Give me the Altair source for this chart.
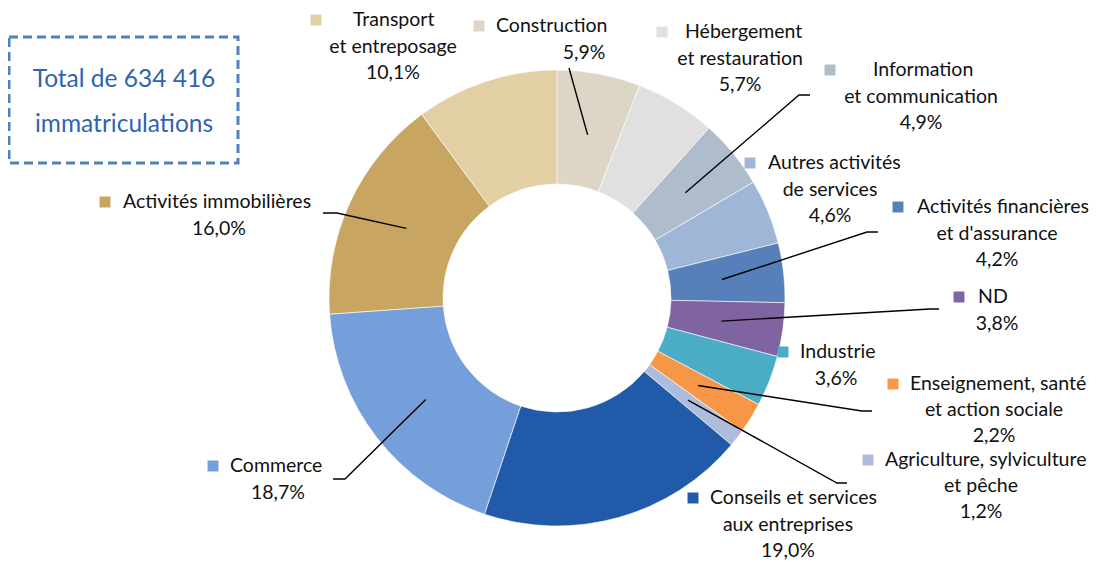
import math
import altair as alt
import pandas as pd

# ---------------- data ----------------
categories = [
    "Construction",
    "Hébergement et restauration",
    "Information et communication",
    "Autres activités de services",
    "Activités financières et d'assurance",
    "ND",
    "Industrie",
    "Enseignement, santé et action sociale",
    "Agriculture, sylviculture et pêche",
    "Conseils et services aux entreprises",
    "Commerce",
    "Activités immobilières",
    "Transport et entreposage",
]
values = [5.9, 5.7, 4.9, 4.6, 4.2, 3.8, 3.6, 2.2, 1.2, 19.0, 18.7, 16.0, 10.1]
label_lines = [
    ["Construction"],
    ["Hébergement", "et restauration"],
    ["Information", "et communication"],
    ["Autres activités", "de services"],
    ["Activités financières", "et d'assurance"],
    ["ND"],
    ["Industrie"],
    ["Enseignement, santé", "et action sociale"],
    ["Agriculture, sylviculture", "et pêche"],
    ["Conseils et services", "aux entreprises"],
    ["Commerce"],
    ["Activités immobilières"],
    ["Transport", "et entreposage"],
]
colors = [
    "#ddd5c6", "#e0e0e0", "#afbccb", "#a0b6d7", "#577fb9", "#8064a2",
    "#4bacc6", "#f79646", "#adbcdc", "#215aa8", "#749fda", "#c8a662", "#e2cfa4",
]
total_lines = ["Total de 634 416", "immatriculations"]

# ---------------- layout (page pixels) ----------------
OFF = 8
W, H = 1102, 552
CX, CY = 557, 298
R_OUT, R_IN, R_LEAD = 228, 114, 166
LINE_H = 26.5
FONT = "Lato"
FS = 19.5

sq_x = [479, 662, 830, 750, 898, 959, 783, 893, 868, 693, 213, 105, 316]
first_x = [496, 685, 873, 768, 917, 978, 800, 910, 885, 710, 230, 123, 353]
rest_cx = [584, 740, 921, 830, 997, 997, 836, 994, 981, 788, 278, 219, 393]
first_y = [26, 32, 70, 163, 207, 297, 352, 384, 460, 498, 466, 202, 20]
line_h = [LINE_H] * 7 + [26.0, 26.0] + [LINE_H] * 4
# label-side points of leader lines (end at slice midpoint)
leader_label_pts = {
    0: [(569, 68)],
    2: [(810, 95), (799, 95)],
    4: [(878, 232), (867, 232)],
    5: [(939, 309), (930, 309)],
    7: [(872, 411), (862, 411)],
    8: [(847, 483), (837, 483)],
    10: [(333, 479), (345, 479)],
    11: [(323, 213), (337, 213)],
}
box = (9, 37, 238, 163)
total_cx, total_y = 124, [80, 125]

# ---------------- build tables ----------------
def pct(v):
    return f"{v:.1f}".replace(".", ",") + "%"

arc_df = pd.DataFrame({"cat": categories, "v": values, "idx": list(range(len(values)))})

first_rows, rest_rows, sq_rows = [], [], []
for i, lines in enumerate(label_lines):
    all_lines = lines + [pct(values[i])]
    first_rows.append({"x": first_x[i] - OFF, "y": first_y[i] - OFF, "t": all_lines[0]})
    for k, t in enumerate(all_lines[1:], start=1):
        rest_rows.append({"x": rest_cx[i] - OFF, "y": first_y[i] + k * line_h[i] - OFF, "t": t})
    sq_rows.append({"x": sq_x[i] - OFF, "y": first_y[i] - OFF, "cat": categories[i]})

total = sum(values)
cum = 0.0
mids = []
for v in values:
    mids.append((cum + v / 2) / total * 2 * math.pi)
    cum += v

lead_rows = []
for i, pts in leader_label_pts.items():
    o = 0
    for (px, py) in pts:
        lead_rows.append({"cat": categories[i], "o": o, "x": px - OFF, "y": py - OFF})
        o += 1
    a = mids[i]
    lead_rows.append({"cat": categories[i], "o": o,
                      "x": CX + R_LEAD * math.sin(a) - OFF,
                      "y": CY - R_LEAD * math.cos(a) - OFF})

box_df = pd.DataFrame([{"x": box[0] - OFF, "x2": box[2] - OFF, "y": box[1] - OFF, "y2": box[3] - OFF}])
total_df = pd.DataFrame([{"x": total_cx - OFF, "y": yy - OFF, "t": t} for t, yy in zip(total_lines, total_y)])

xs = alt.Scale(domain=[0, W], nice=False, zero=False)
ys = alt.Scale(domain=[0, H], nice=False, zero=False, reverse=True)
X = lambda: alt.X("x:Q", scale=xs, axis=None)
Y = lambda: alt.Y("y:Q", scale=ys, axis=None)
color_scale = alt.Scale(domain=categories, range=colors)

arcs = alt.Chart(arc_df).mark_arc(
    outerRadius=R_OUT, innerRadius=R_IN, stroke="#ffffff", strokeWidth=0.6
).encode(
    theta=alt.Theta("v:Q", stack=True),
    order=alt.Order("idx:Q"),
    color=alt.Color("cat:N", scale=color_scale, legend=None),
    x=alt.value(CX - OFF),
    y=alt.value(CY - OFF),
)

leaders = alt.Chart(pd.DataFrame(lead_rows)).mark_line(
    color="#000000", strokeWidth=1.4
).encode(x=X(), y=Y(), detail="cat:N", order=alt.Order("o:Q"))

squares = alt.Chart(pd.DataFrame(sq_rows)).mark_square(size=120, opacity=1).encode(
    x=X(), y=Y(), color=alt.Color("cat:N", scale=color_scale, legend=None)
)

first_text = alt.Chart(pd.DataFrame(first_rows)).mark_text(
    align="left", baseline="middle", font=FONT, fontSize=FS, color="#111111"
).encode(x=X(), y=Y(), text="t:N")

rest_text = alt.Chart(pd.DataFrame(rest_rows)).mark_text(
    align="center", baseline="middle", font=FONT, fontSize=FS, color="#111111"
).encode(x=X(), y=Y(), text="t:N")

box_mark = alt.Chart(box_df).mark_rect(
    fill=None, stroke="#4f81bd", strokeWidth=3, strokeDash=[9, 5]
).encode(x=X(), x2="x2:Q", y=Y(), y2="y2:Q")

total_text = alt.Chart(total_df).mark_text(
    align="center", baseline="middle", font=FONT, fontSize=24.5, color="#2e64b0"
).encode(x=X(), y=Y(), text="t:N")

chart = alt.layer(arcs, leaders, squares, first_text, rest_text, box_mark, total_text).properties(
    width=W, height=H, padding=0, autosize=alt.AutoSizeParams(type="none"), background="#ffffff"
).configure_view(stroke=None)

chart.save("out.html", embed_options={"renderer": "svg", "actions": False})
